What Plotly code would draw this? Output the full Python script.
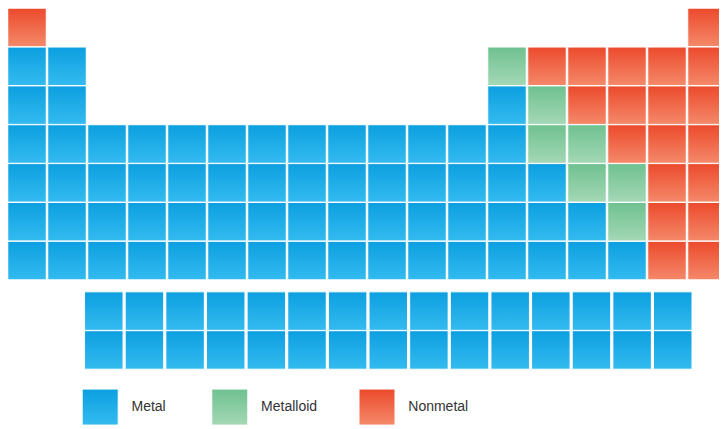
import plotly.graph_objects as go

# ---- data: element category per grid cell (M = metal, S = metalloid, N = nonmetal, . = empty)
period_rows = [
    "N................N",
    "MM..........SNNNNN",
    "MM..........MSNNNN",
    "MMMMMMMMMMMMMSSNNN",
    "MMMMMMMMMMMMMMSSNN",
    "MMMMMMMMMMMMMMMSNN",
    "MMMMMMMMMMMMMMMMNN",
]
lanthanides = ["La", "Ce", "Pr", "Nd", "Pm", "Sm", "Eu", "Gd", "Tb", "Dy", "Ho", "Er", "Tm", "Yb", "Lu"]
actinides = ["Ac", "Th", "Pa", "U", "Np", "Pu", "Am", "Cm", "Bk", "Cf", "Es", "Fm", "Md", "No", "Lr"]
lanthanide_cats = "MMMMMMMMMMMMMMM"
actinide_cats = "MMMMMMMMMMMMMMM"

legend_labels = ["Metal", "Metalloid", "Nonmetal"]
cat_codes = ["M", "S", "N"]

# ---- styles
base_colors = {"M": "#0c9fe0", "S": "#6fc190", "N": "#ec4a2c"}
light_colors = {"M": "#34bbf0", "S": "#a4d8b6", "N": "#f4896a"}

# ---- layout constants
F_ROW_START = 8.3        # y of first f-block row
F_X_START = 2.92
F_X_STEP = 1.016
LEGEND_Y = 10.77
LEGEND_X = [2.83, 6.07, 9.75]

cells = {c: {"x": [], "y": []} for c in cat_codes}
for p, row in enumerate(period_rows, start=1):
    for g, code in enumerate(row, start=1):
        if code != ".":
            cells[code]["x"].append(g)
            cells[code]["y"].append(p)
for k, (syms, cats) in enumerate([(lanthanides, lanthanide_cats), (actinides, actinide_cats)]):
    for i, (s, code) in enumerate(zip(syms, cats)):
        cells[code]["x"].append(F_X_START + i * F_X_STEP)
        cells[code]["y"].append(F_ROW_START + k)

fig = go.Figure()
for code in cat_codes:
    fig.add_trace(go.Scatter(
        x=cells[code]["x"], y=cells[code]["y"], mode="markers",
        marker=dict(symbol="square", size=38.5, color=base_colors[code],
                    line=dict(color="white", width=1),
                    gradient=dict(type="vertical", color=light_colors[code])),
        hoverinfo="skip", showlegend=False, cliponaxis=False,
    ))

fig.add_trace(go.Scatter(
    x=LEGEND_X, y=[LEGEND_Y] * 3, mode="markers+text",
    text=["  " + t for t in legend_labels], textposition="middle right",
    textfont=dict(family="Liberation Sans, Arial", size=14, color="#333333"),
    marker=dict(symbol="square", size=36, color=[base_colors[c] for c in cat_codes],
                line=dict(color="white", width=1),
                gradient=dict(type="vertical", color=[light_colors[c] for c in cat_codes])),
    hoverinfo="skip", showlegend=False, cliponaxis=False,
))

fig.update_layout(
    width=719, height=421, margin=dict(l=0, r=0, t=0, b=0),
    paper_bgcolor="white", plot_bgcolor="white", showlegend=False,
    xaxis=dict(range=[0.525, 18.5], visible=False, fixedrange=True),
    yaxis=dict(range=[11.334, 0.5], visible=False, fixedrange=True),
)
fig.write_html("out.html")
